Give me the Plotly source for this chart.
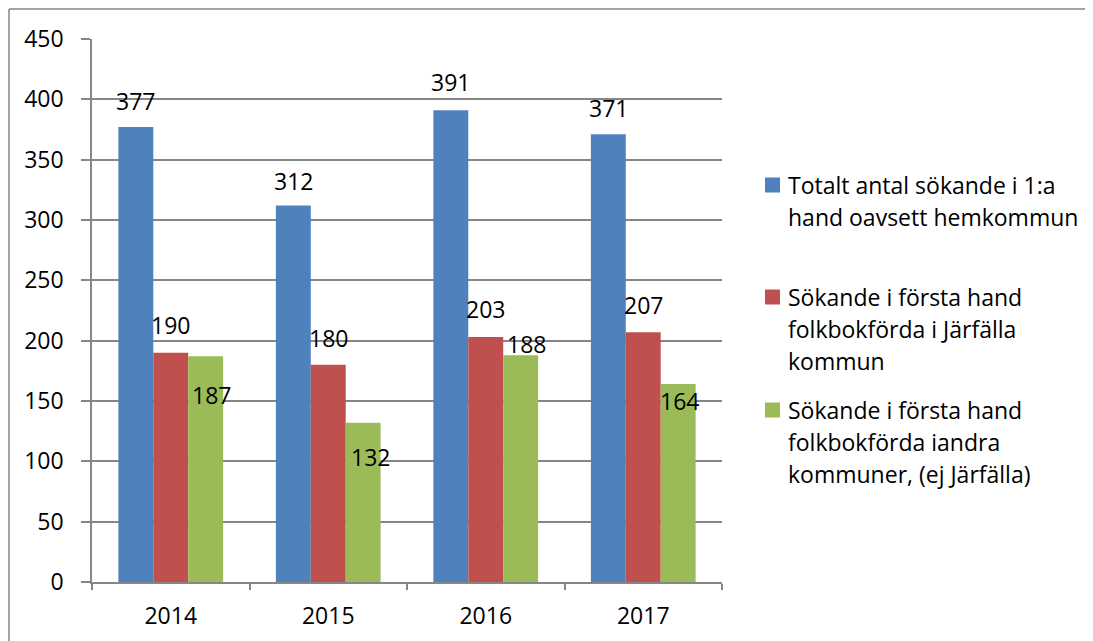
import plotly.graph_objects as go

years = ["2014", "2015", "2016", "2017"]
series_names = [
    "Totalt antal sökande i 1:a hand oavsett hemkommun",
    "Sökande i första hand folkbokförda i Järfälla kommun",
    "Sökande i första hand folkbokförda iandra kommuner, (ej Järfälla)",
]
legend_lines = [
    ["Totalt antal sökande i 1:a", "hand oavsett hemkommun"],
    ["Sökande i första hand", "folkbokförda i Järfälla", "kommun"],
    ["Sökande i första hand", "folkbokförda iandra", "kommuner, (ej Järfälla)"],
]
total = [377, 312, 391, 371]
jarfalla = [190, 180, 203, 207]
andra = [187, 132, 188, 164]
values = [total, jarfalla, andra]
colors = ["#4F81BD", "#C0504D", "#9BBB59"]

# label offsets (px): vertical shift of label centre relative to bar top, extra x shift
label_dy = [[26, 25, 28, 26], [28, 27, 28, 27], [-39, -34, 11, -17]]
label_dx = [[0, 0, 0, 0], [0, 0, 0, 0], [6, 7, 6, 1]]

W, H = 1093, 641
OFF = 8  # page body margin offset
# target screen-space plot box
SX0, SX1, SY0, SY1 = 92, 722, 39, 582
L = SX0 - OFF
R = W - (SX1 - OFF)
T = SY0 - OFF
B = H - (SY1 - OFF)
FONT = "Open Sans"
FS = 23
bargap = 0.335

fig = go.Figure()
for name, vals, col in zip(series_names, values, colors):
    fig.add_trace(go.Bar(x=years, y=vals, name=name, marker=dict(color=col, line=dict(width=0)),
                         showlegend=False))

plot_w = SX1 - SX0
ph = SY1 - SY0


def px(sx):
    return (sx - SX0) / plot_w


def py(sy):
    return (SY1 - sy) / ph


bar_px = plot_w / len(years) * (1 - bargap) / len(values)
ann = []
for si, vals in enumerate(values):
    off = (si - (len(values) - 1) / 2) * bar_px
    for ci, v in enumerate(vals):
        ann.append(dict(x=ci, y=v, xref="x", yref="y", text=str(v), showarrow=False,
                        xshift=off + label_dx[si][ci], yshift=label_dy[si][ci],
                        yanchor="middle", xanchor="center",
                        font=dict(family=FONT, size=FS, color="#000000")))

# manual legend
shapes = []
legend_first_y = [185, 297, 410]
line_h = 32
for i, (lines, col) in enumerate(zip(legend_lines, colors)):
    y0 = legend_first_y[i]
    shapes.append(dict(type="rect", xref="paper", yref="paper",
                       x0=px(765), x1=px(780), y0=py(y0 + 7.5), y1=py(y0 - 7.5),
                       fillcolor=col, line=dict(width=0)))
    for j, ln in enumerate(lines):
        yy = y0 + j * line_h
        ann.append(dict(x=px(786), y=py(yy), xref="paper", yref="paper",
                        text=ln, showarrow=False, xanchor="left", yanchor="middle",
                        font=dict(family=FONT, size=FS, color="#000000")))

# outer chart border (top & left visible)
shapes.append(dict(type="line", xref="paper", yref="paper",
                   x0=px(9), x1=px(W + 20), y0=py(9), y1=py(9), line=dict(color="#868686", width=1.5)))
shapes.append(dict(type="line", xref="paper", yref="paper",
                   x0=px(9), x1=px(9), y0=py(9), y1=py(H + 20), line=dict(color="#868686", width=1.5)))

fig.update_layout(
    width=W, height=H,
    margin=dict(l=L, r=R, t=T, b=B, autoexpand=False),
    paper_bgcolor="white", plot_bgcolor="white",
    barmode="group", bargap=bargap, bargroupgap=0,
    annotations=ann, shapes=shapes,
    font=dict(family=FONT, size=FS, color="#000000"),
)
fig.update_xaxes(type="category", range=[-0.5, len(years) - 0.5], automargin=False,
                 showgrid=False, showline=True, linecolor="#868686", linewidth=1.5,
                 ticks="outside", tickson="boundaries", ticklen=6, tickcolor="#868686", tickwidth=1.5,
                 tickangle=0, ticklabelstandoff=13, tickfont=dict(family=FONT, size=FS, color="#000000"))
fig.update_yaxes(range=[0, 450], dtick=50, automargin=False, showgrid=True, gridcolor="#868686", gridwidth=1.5,
                 showline=True, linecolor="#868686", linewidth=1.5,
                 ticks="outside", ticklen=9, tickcolor="#868686", tickwidth=1.5,
                 ticklabelstandoff=13, zeroline=False,
                 tickfont=dict(family=FONT, size=FS, color="#000000"))

fig.write_html("out.html")
